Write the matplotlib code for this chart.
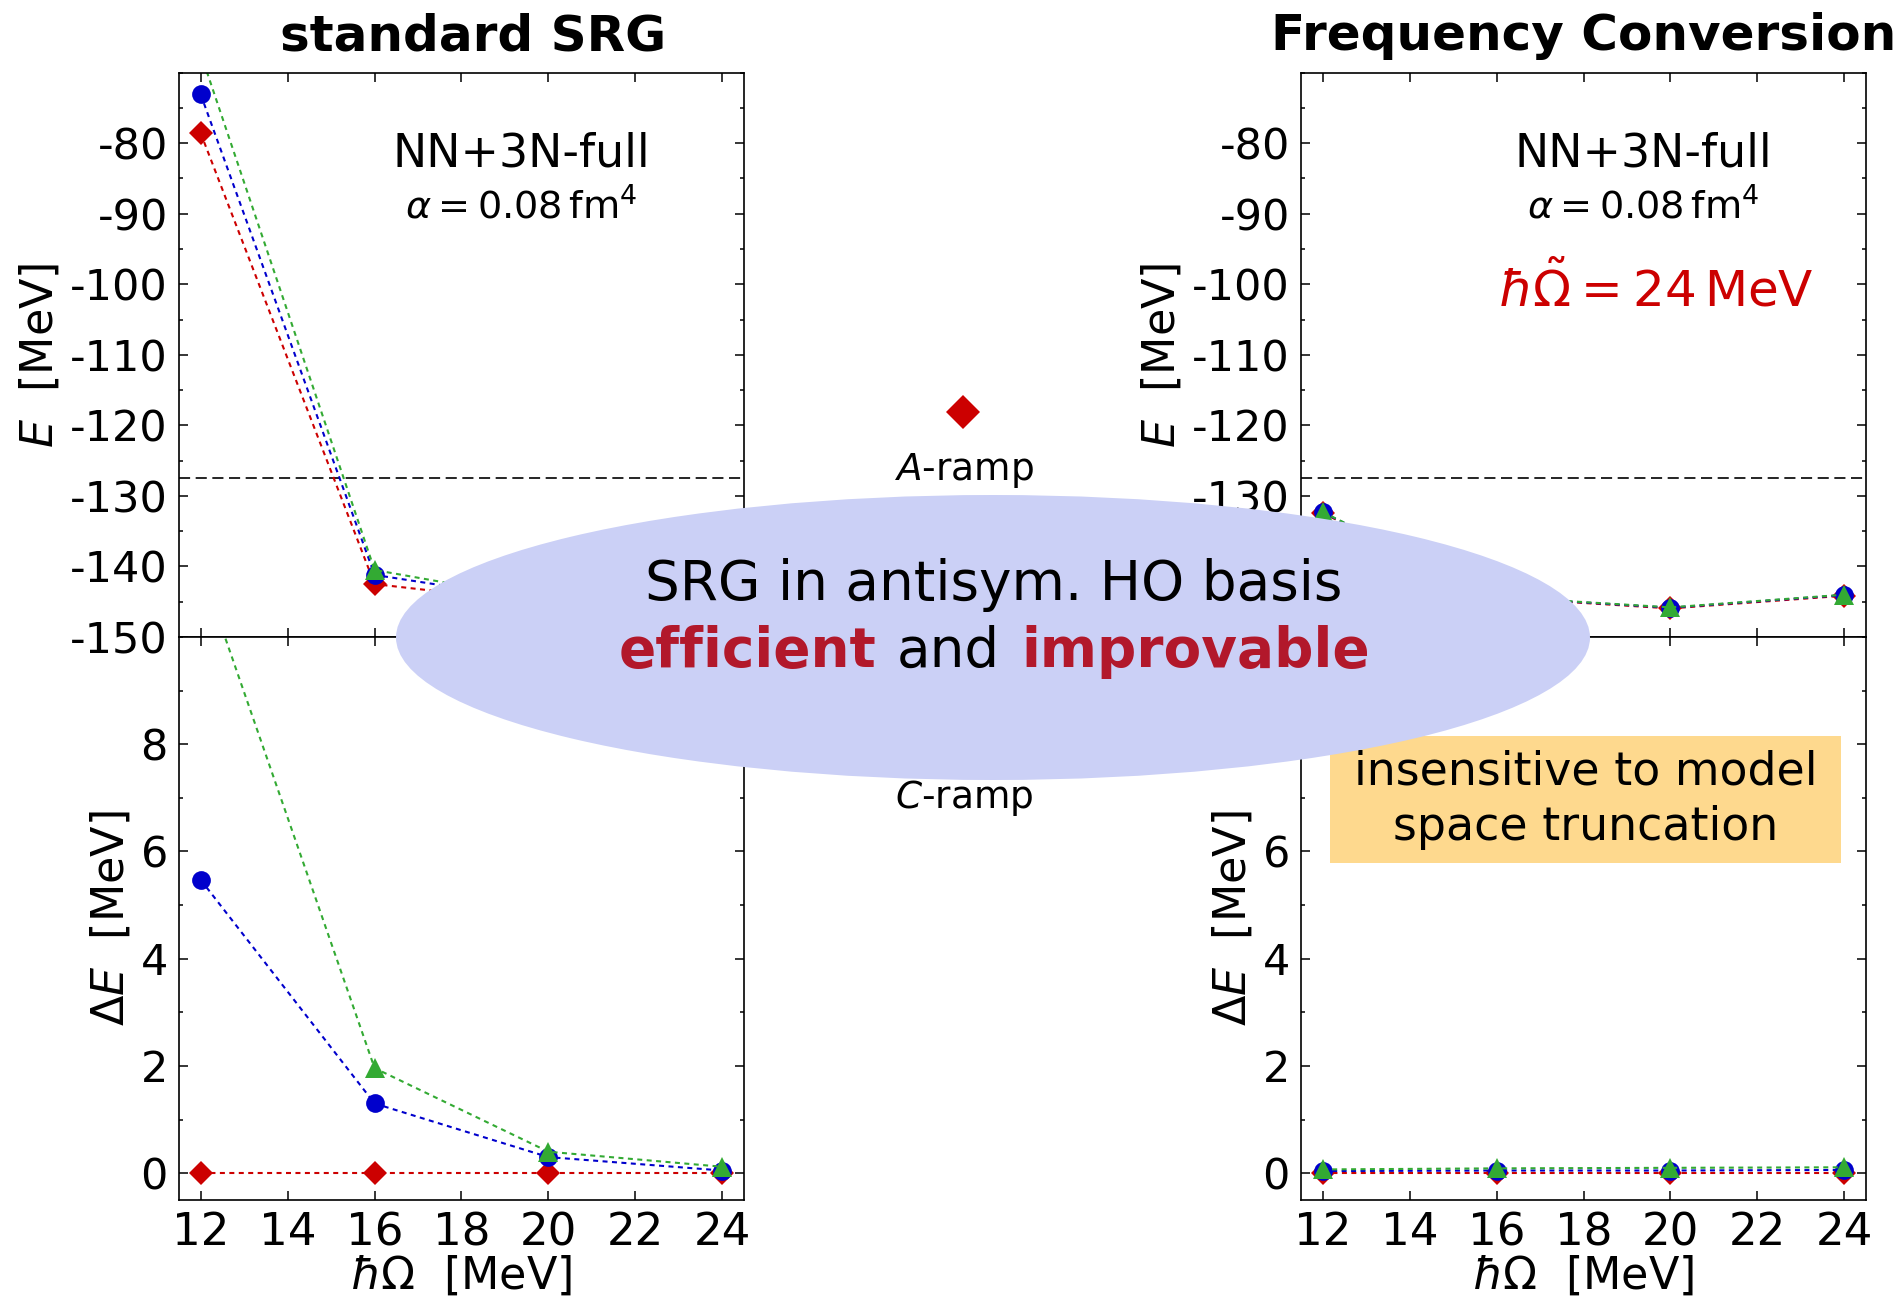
import matplotlib
matplotlib.use('Agg')
import matplotlib.pyplot as plt
from matplotlib.patches import Ellipse, Rectangle
from matplotlib.lines import Line2D
from matplotlib.ticker import MultipleLocator

plt.rcParams['axes.unicode_minus'] = False
plt.rcParams['lines.scale_dashes'] = False

# oscillator frequencies [MeV]
hw = [12, 16, 20, 24]

# standard SRG: ground-state energies [MeV] for A-, B-, C-ramp
e_std_a = [-78.6, -142.5, -145.3, -144.6]
e_std_b = [-73.1, -141.2, -145.0, -144.55]
e_std_c = [-67.3, -140.5, -144.9, -144.5]
# deviation from A-ramp
de_std_a = [0.0, 0.0, 0.0, 0.0]
de_std_b = [5.47, 1.30, 0.30, 0.05]
de_std_c = [11.3, 1.96, 0.40, 0.12]

# frequency conversion
e_fc_a = [-132.45, -144.4, -145.95, -144.15]
e_fc_b = [-132.35, -144.35, -145.85, -144.05]
e_fc_c = [-132.3, -144.3, -145.8, -144.0]
de_fc_a = [0.0, 0.0, 0.0, 0.0]
de_fc_b = [0.04, 0.05, 0.05, 0.06]
de_fc_c = [0.07, 0.09, 0.10, 0.11]

e_exp = -127.5

ramps = ['A', 'B', 'C']
colors = ['#cc0000', '#0000cc', '#33aa33']
markers = ['D', 'o', '^']
msizes = [12, 13.5, 14]

W, H = 1903, 1303
fig = plt.figure(figsize=(W / 100, H / 100), dpi=100)


def px(x0, y0, x1, y1):
    # pixel box (top-left origin) -> figure fraction rect
    return [x0 / W, 1 - y1 / H, (x1 - x0) / W, (y1 - y0) / H]


def style(ax):
    for s in ax.spines.values():
        s.set_linewidth(1.2)
    ax.tick_params(which='both', direction='in', top=True, right=True,
                   labelsize=31, pad=8)
    ax.tick_params(axis='x', labelsize=32.5)
    ax.tick_params(which='major', length=6.2, width=1.1)
    ax.tick_params(which='minor', length=3.1, width=1.1)
    ax.set_xlim(11.5, 24.5)
    ax.xaxis.set_major_locator(MultipleLocator(2))


def draw_series(ax, ys):
    for y, c, m, ms in zip(ys, colors, markers, msizes):
        ax.plot(hw, y, color=c, marker=m, ms=ms, mec=c, mew=0,
                ls=(0, (3.6, 3.2)), lw=1.5, clip_on=True)


panels = [
    ('standard SRG', 179, 0.52, [e_std_a, e_std_b, e_std_c],
     [de_std_a, de_std_b, de_std_c]),
    ('Frequency Conversion', 1301, 0.5, [e_fc_a, e_fc_b, e_fc_c],
     [de_fc_a, de_fc_b, de_fc_c]),
]

for i, (title, x0, tx, es, des) in enumerate(panels):
    ax1 = fig.add_axes(px(x0, 72.6, x0 + 565, 637))
    ax2 = fig.add_axes(px(x0, 637, x0 + 565, 1200))
    style(ax1)
    style(ax2)

    ax1.axhline(e_exp, color='black', ls=(0, (8, 4)), lw=1.2)
    draw_series(ax1, es)
    ax1.set_ylim(-150, -70)
    ax1.set_yticks(range(-150, -79, 10))
    ax1.yaxis.set_minor_locator(MultipleLocator(5))
    ax1.tick_params(labelbottom=False)
    ax1.set_ylabel('$E$  [MeV]', fontsize=32, labelpad=6)
    ax1.set_title(title, fontsize=36, fontweight='bold', pad=16, x=tx)
    ax1.text(0.606, 0.833, 'NN+3N-full', transform=ax1.transAxes,
             fontsize=33, ha='center', va='baseline')
    ax1.text(0.606, 0.742, r'$\alpha = 0.08\,\mathrm{fm}^4$',
             transform=ax1.transAxes, fontsize=27.5, ha='center', va='baseline')

    draw_series(ax2, des)
    ax2.set_ylim(-0.5, 10)
    ax2.set_yticks([0, 2, 4, 6, 8])
    ax2.yaxis.set_minor_locator(MultipleLocator(1))
    ax2.set_ylabel(r'$\Delta E$  [MeV]', fontsize=32, labelpad=6)
    ax2.set_xlabel(r'$\hbar\Omega$  [MeV]', fontsize=32, labelpad=0)

    if i == 1:
        ax1.text(0.628, 0.586, r'$\hbar\tilde{\Omega} = 24\,\mathrm{MeV}$',
                 transform=ax1.transAxes, fontsize=36, color='#cc0000',
                 ha='center', va='baseline')
        ax2.add_patch(Rectangle((0.051, 0.599), 0.905, 0.225,
                                transform=ax2.transAxes, fc='#fed98e',
                                ec='none', zorder=5))
        ax2.text(0.504, 0.738, 'insensitive to model', transform=ax2.transAxes,
                 fontsize=33, ha='center', va='baseline', zorder=6)
        ax2.text(0.504, 0.639, 'space truncation', transform=ax2.transAxes,
                 fontsize=33, ha='center', va='baseline', zorder=6)

# legend between the panels: marker above label
# (the B-ramp entry and the C-ramp marker sit behind the ellipse)
for k, (r, c, m) in enumerate(zip(ramps, colors, markers)):
    ym = 412 + 164 * k
    fig.add_artist(Line2D([963 / W], [1 - ym / H], transform=fig.transFigure,
                          marker=m, ms=17, color=c, mew=0, ls='none', zorder=3))
    if r != 'B':
        fig.text(964 / W, 1 - (ym + 68) / H, '$%s$-ramp' % r, fontsize=27,
                 ha='center', va='baseline', zorder=3)

# overlay ellipse with message
fig.add_artist(Ellipse((993 / W, 1 - 637.5 / H), 1194 / W, 285 / H,
                       transform=fig.transFigure, fc='#cbd0f6', ec='none',
                       zorder=5))
fig.text(994 / W, 1 - 600 / H, 'SRG in antisym. HO basis', fontsize=39.5,
         ha='center', va='baseline', zorder=6)

dred = '#b2182b'
parts = [('efficient', 'bold', dred), ('and', 'normal', 'black'),
         ('improvable', 'bold', dred)]
texts = [fig.text(0, 1 - 667 / H, s, fontsize=39.5, fontweight=fw, color=c,
                  ha='left', va='baseline', zorder=6) for s, fw, c in parts]
renderer = fig.canvas.get_renderer()
widths = [t.get_window_extent(renderer).width for t in texts]
gap = 21
total = sum(widths) + gap * (len(widths) - 1)
x = 994 - total / 2
for t, w in zip(texts, widths):
    t.set_x(x / W)
    x += w + gap

fig.savefig('out.png', dpi=100)
